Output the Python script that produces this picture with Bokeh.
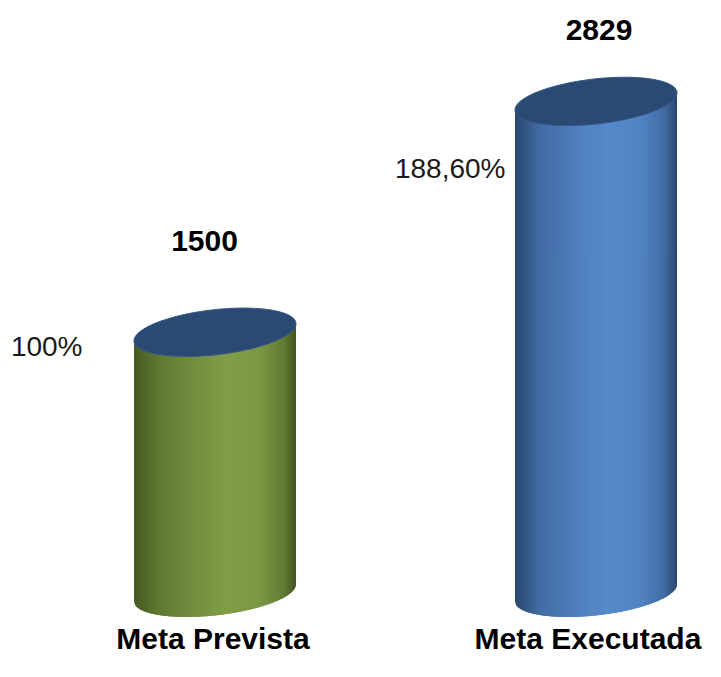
import numpy as np
from bokeh.plotting import figure
from bokeh.models import Range1d
from bokeh.core.properties import value
from bokeh.embed import file_html
from bokeh.resources import INLINE

# ---- data ----
categories = ["Meta Prevista", "Meta Executada"]
values = [1500, 2829]
value_labels = ["1500", "2829"]
pct_labels = ["100%", "188,60%"]

# ---- layout / style constants ----
W, H = 705, 661
K = 0.1737            # screen px per value unit
BASE_PX = 592.3       # screen row of value 0 (from top)
PX_PER_CAT = 381.0
FIRST_CAT_PX = 214.5
A_PX, B_PX = 81.5, 22.5
THETA = np.deg2rad(6.5)
N_STRIPS = 120

body_stops = [
    [(-1.0, "#465a22"), (-0.7, "#5f7832"), (-0.2, "#769041"), (0.15, "#809d47"),
     (0.55, "#7c9844"), (0.85, "#627b33"), (1.0, "#42541f")],
    [(-1.0, "#2c476f"), (-0.7, "#416ca3"), (-0.2, "#5080be"), (0.15, "#568acb"),
     (0.55, "#5184c3"), (0.85, "#416ba0"), (1.0, "#2b466d")],
]
top_colors = ["#2b4a73", "#2b4a73"]
font = value("Liberation Sans")

val_dx = [-10.5, 3.0]
val_dy = [91.0, 71.5]
pct_dx = [-132.5, -90.5]
pct_dy = [-14.5, -67.0]
cat_dx = [-2.0, -8.0]
cat_dy = -46.0


def hex2rgb(h):
    h = h.lstrip("#")
    return np.array([int(h[i:i + 2], 16) for i in (0, 2, 4)], dtype=float)


def color_at(stops, u):
    us = [st[0] for st in stops]
    cs = [hex2rgb(st[1]) for st in stops]
    for j in range(len(us) - 1):
        if us[j] <= u <= us[j + 1]:
            f = (u - us[j]) / (us[j + 1] - us[j])
            col = cs[j] * (1 - f) + cs[j + 1] * f
            return "#%02x%02x%02x" % tuple(int(round(v)) for v in col)
    return stops[-1][1]


s, c = np.sin(THETA), np.cos(THETA)
c2 = s * s / A_PX ** 2 + c * c / B_PX ** 2
hx = np.sqrt(A_PX ** 2 * c * c + B_PX ** 2 * s * s)


def ell_low_mid(dx):
    c1 = 2 * dx * s * c * (1 / A_PX ** 2 - 1 / B_PX ** 2)
    c0 = dx * dx * (c * c / A_PX ** 2 + s * s / B_PX ** 2) - 1
    disc = max(c1 * c1 - 4 * c2 * c0, 0.0)
    return (-c1 - np.sqrt(disc)) / (2 * c2), -c1 / (2 * c2)


y_end = BASE_PX / K
y_start = y_end - H / K
x_start = -FIRST_CAT_PX / PX_PER_CAT
x_end = x_start + W / PX_PER_CAT

p = figure(width=W, height=H, output_backend="svg", toolbar_location=None,
           x_range=Range1d(x_start, x_end), y_range=Range1d(y_start, y_end),
           min_border=0, outline_line_color=None)
p.axis.visible = False
p.grid.visible = False
p.background_fill_color = "white"
p.border_fill_color = "white"

for i, v in enumerate(values):
    xs, ys, cols = [], [], []
    for j in range(N_STRIPS):
        d0 = -hx + 2 * hx * j / N_STRIPS
        d1 = min(-hx + 2 * hx * (j + 1) / N_STRIPS + 1.5, hx)
        dd = np.linspace(d0, d1, 4)
        lo = [ell_low_mid(d)[0] for d in dd]
        mid = [ell_low_mid(d)[1] for d in dd]
        xs.append([i + d / PX_PER_CAT for d in dd] + [i + d / PX_PER_CAT for d in dd[::-1]])
        ys.append([l / K for l in lo] + [v + m / K for m in mid[::-1]])
        cols.append(color_at(body_stops[i], (d0 + hx / N_STRIPS) / hx))
    p.patches(xs, ys, fill_color=cols, line_color=None)

    t = np.linspace(0, 2 * np.pi, 181)
    ex = A_PX * np.cos(t) * c - B_PX * np.sin(t) * s
    ey = A_PX * np.cos(t) * s + B_PX * np.sin(t) * c
    p.patch(i + ex / PX_PER_CAT, v + ey / K, fill_color=top_colors[i],
            line_color="#34578a", line_width=1)

idx = list(range(len(values)))
p.text(x=[i + val_dx[i] / PX_PER_CAT for i in idx],
       y=[values[i] + val_dy[i] / K for i in idx], text=value_labels,
       text_font=font, text_font_style="bold", text_font_size="30px",
       text_align="center", text_baseline="middle", text_color="#000000")
p.text(x=[i + pct_dx[i] / PX_PER_CAT for i in idx],
       y=[values[i] + pct_dy[i] / K for i in idx], text=pct_labels,
       text_font=font, text_font_size="28px",
       text_align="right", text_baseline="middle", text_color="#1a1a1a")
p.text(x=[i + cat_dx[i] / PX_PER_CAT for i in idx],
       y=[cat_dy / K for i in idx], text=categories,
       text_font=font, text_font_style="bold", text_font_size="30px",
       text_align="center", text_baseline="middle", text_color="#000000")

open("out.html", "w").write(file_html(p, INLINE))
